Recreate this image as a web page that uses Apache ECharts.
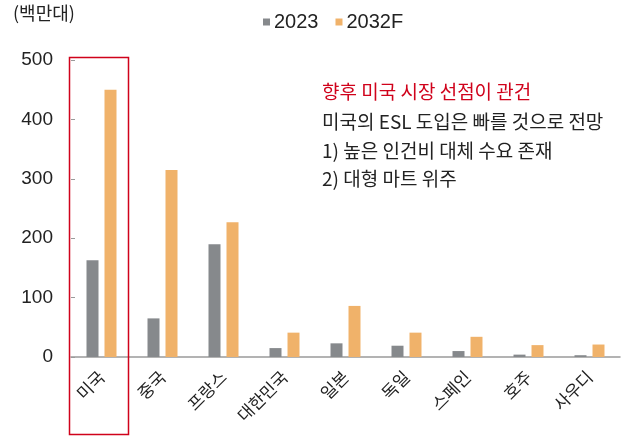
<!DOCTYPE html>
<html>
<head>
<meta charset="utf-8">
<script src="https://cdn.jsdelivr.net/npm/echarts@6/dist/echarts.min.js"></script>
<style>
  html, body { margin: 0; padding: 0; background: #fff; }
  #chart { width: 628px; height: 436px; }
</style>
</head>
<body>
<div id="chart"></div>
<script>
  // 국가별 ESL 수요 (백만대)
  const countries = ["미국", "중국", "프랑스", "대한민국", "일본", "독일", "스페인", "호주", "사우디"];
  const v2023 = [163, 65, 190, 15, 23, 19, 10, 4, 3];
  const v2032F = [450, 315, 227, 41, 86, 41, 34, 20, 21];
  const yTicks = [0, 100, 200, 300, 400, 500];
  const notes = [
    "미국의 ESL 도입은 빠를 것으로 전망",
    "1) 높은 인건비 대체 수요 존재",
    "2) 대형 마트 위주"
  ];

  const font = "'Liberation Sans', 'Noto Sans CJK KR', sans-serif";
  const krFont = "'Noto Sans CJK KR', sans-serif";

  const myChart = echarts.init(document.getElementById("chart"));
  myChart.setOption({
    animation: false,
    textStyle: { fontFamily: font },
    grid: { left: 71, right: 8, top: 60, bottom: 79 },
    legend: {
      top: 7,
      left: 258,
      itemWidth: 7,
      itemHeight: 7,
      itemGap: 17,
      icon: "rect",
      textStyle: { fontSize: 20, color: "#222", fontFamily: font, padding: [0, 0, 0, -1] },
      data: ["2023", "2032F"]
    },
    xAxis: {
      type: "category",
      data: countries,
      axisLine: { lineStyle: { color: "#9a9a9a", width: 1.5 } },
      axisTick: { inside: true, length: 5, lineStyle: { color: "#9a9a9a" } },
      axisLabel: { rotate: 45, margin: 17, fontSize: 17, color: "#222", fontFamily: krFont, interval: 0 }
    },
    yAxis: {
      type: "value",
      min: yTicks[0],
      max: yTicks[yTicks.length - 1],
      interval: 100,
      splitLine: { show: false },
      axisLine: { show: false },
      axisTick: { show: true, inside: true, length: 4, lineStyle: { color: "#9a9a9a" } },
      axisLabel: { fontSize: 19, color: "#222", margin: 18, fontFamily: font }
    },
    series: [
      {
        name: "2023",
        type: "bar",
        data: v2023,
        barWidth: 12,
        barGap: "50%",
        itemStyle: { color: "#86898c" }
      },
      {
        name: "2032F",
        type: "bar",
        data: v2032F,
        barWidth: 12,
        itemStyle: { color: "#f0b26a" }
      }
    ],
    graphic: [
      {
        type: "text",
        left: 13,
        top: 4,
        style: { text: "(백만대)", fontSize: 18, fill: "#222", fontFamily: krFont }
      },
      {
        type: "rect",
        shape: { x: 69.5, y: 57.5, width: 59, height: 377 },
        style: { fill: "none", stroke: "#d0021b", lineWidth: 1.5 },
        z: 10
      },
      {
        type: "text",
        left: 322,
        top: 82,
        style: { text: "향후 미국 시장 선점이 관건", fontSize: 19, fill: "#d0021b", fontFamily: krFont }
      },
      {
        type: "text",
        left: 322,
        top: 108,
        style: { text: notes.join("\n"), fontSize: 19, lineHeight: 28.5, fill: "#222", fontFamily: krFont }
      }
    ]
  });
</script>
</body>
</html>
